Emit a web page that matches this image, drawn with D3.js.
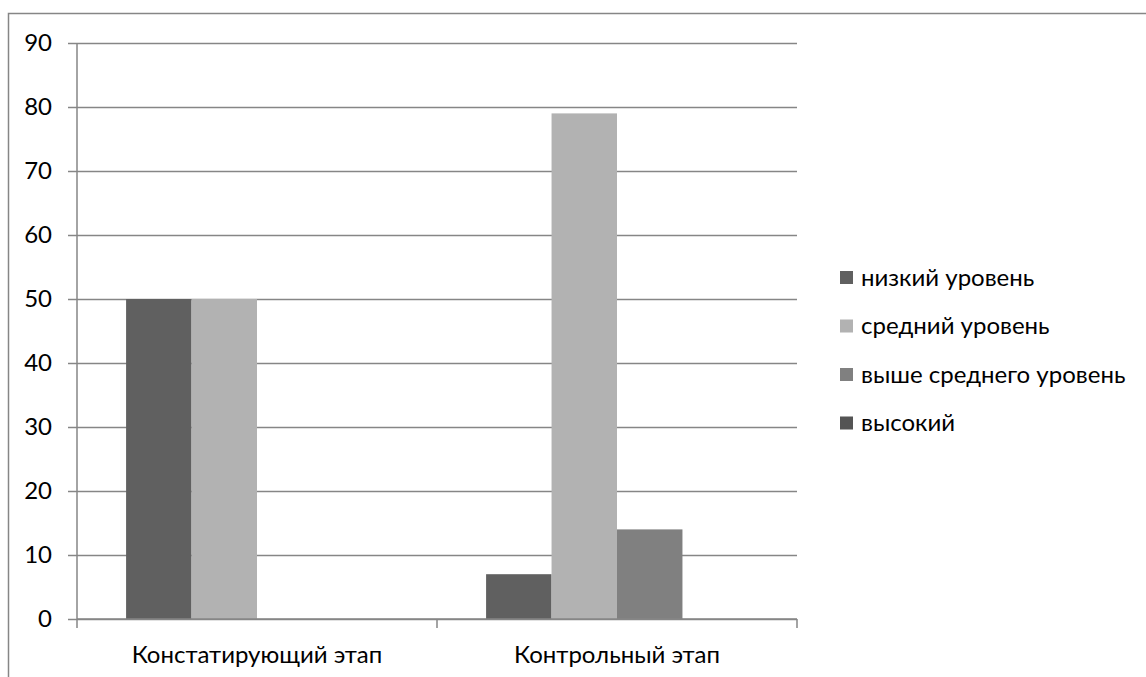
<!DOCTYPE html>
<html>
<head>
<meta charset="utf-8">
<script src="https://cdn.jsdelivr.net/npm/d3@7"></script>
<style>
    body { margin: 0; background: #fff; }
    text { font-family: Lato, 'Noto Sans', sans-serif; fill: #000; }
</style>
</head>
<body>
<div id="vis"></div>
<script>
'use strict';

//data
var categories = ['Констатирующий этап', 'Контрольный этап'];
var seriesNames = ['низкий уровень', 'средний уровень', 'выше среднего уровень', 'высокий'];
var lowValues = [50, 7];
var middleValues = [50, 79];
var aboveMiddleValues = [0, 14];
var highValues = [0, 0];
var yTicks = [0, 10, 20, 30, 40, 50, 60, 70, 80, 90];

//vis color
var colors = ['#606060', '#b2b2b2', '#808080', '#545454'];

//layout
var width = 1146, height = 677;
var plot = { left: 77, right: 797, top: 43, bottom: 619 };
var fontSize = 24;

var series = [lowValues, middleValues, aboveMiddleValues, highValues];

var svg = d3.select('#vis')
    .append('svg')
    .attr('width', width)
    .attr('height', height);

//outer frame
svg.append('rect')
    .attr('x', 8.5)
    .attr('y', 13.5)
    .attr('width', 1150)
    .attr('height', 700)
    .attr('fill', 'none')
    .attr('stroke', '#868686')
    .attr('stroke-width', 1.5);

var x0 = d3.scaleBand()
    .domain(categories)
    .range([plot.left, plot.right]);
var x1 = d3.scaleBand()
    .domain(d3.range(seriesNames.length))
    .range([0, x0.bandwidth()])
    .paddingOuter(0.75);
var y = d3.scaleLinear()
    .domain([0, 90])
    .range([plot.bottom, plot.top]);

//grid + y labels
var yAxis = svg.append('g')
    .attr('transform', 'translate(' + plot.left + ',0)')
    .call(d3.axisLeft(y).tickValues(yTicks).tickSize(-(plot.right - plot.left)).tickSizeOuter(0).tickPadding(25));
yAxis.select('.domain').remove();
yAxis.selectAll('.tick line')
    .attr('x1', -9)
    .attr('stroke', '#868686')
    .attr('stroke-width', 1.5);
yAxis.selectAll('.tick text')
    .attr('font-size', fontSize)
    .style('font-family', "Lato, 'Noto Sans', sans-serif");

//bars
var groups = svg.selectAll('.vis-g')
    .data(categories)
    .enter()
    .append('g')
    .attr('class', 'vis-g')
    .attr('transform', function (d) {
        return 'translate(' + x0(d) + ',0)';
    });
groups.selectAll('rect')
    .data(function (d, i) {
        return series.map(function (s, j) { return { key: j, value: s[i] }; });
    })
    .enter()
    .append('rect')
    .attr('x', function (d) { return x1(d.key); })
    .attr('y', function (d) { return y(d.value); })
    .attr('width', x1.bandwidth())
    .attr('height', function (d) { return plot.bottom - y(d.value); })
    .attr('fill', function (d) { return colors[d.key]; });

//y axis line
svg.append('line')
    .attr('x1', plot.left)
    .attr('x2', plot.left)
    .attr('y1', plot.top)
    .attr('y2', plot.bottom)
    .attr('stroke', '#868686')
    .attr('stroke-width', 1.5);

//x axis
var xAxis = svg.append('g')
    .attr('transform', 'translate(0,' + plot.bottom + ')');
xAxis.append('line')
    .attr('x1', plot.left)
    .attr('x2', plot.right)
    .attr('stroke', '#868686')
    .attr('stroke-width', 1.5);
//category dividers
var dividers = categories.map(function (c) { return x0(c); }).concat([plot.right]);
xAxis.selectAll('.x-tick')
    .data(dividers)
    .enter()
    .append('line')
    .attr('x1', function (d) { return d; })
    .attr('x2', function (d) { return d; })
    .attr('y2', 9)
    .attr('stroke', '#868686')
    .attr('stroke-width', 1.5);
xAxis.selectAll('.x-label')
    .data(categories)
    .enter()
    .append('text')
    .attr('x', function (d) { return x0(d) + x0.bandwidth() / 2; })
    .attr('y', 44)
    .attr('text-anchor', 'middle')
    .attr('font-size', fontSize)
    .text(function (d) { return d; });

//legend
var legend = svg.selectAll('.legend')
    .data(seriesNames)
    .enter()
    .append('g')
    .attr('class', 'legend')
    .attr('transform', function (d, i) {
        return 'translate(840,' + (271 + i * 48.5) + ')';
    });
legend.append('rect')
    .attr('width', 13)
    .attr('height', 13)
    .attr('fill', function (d, i) { return colors[i]; });
legend.append('text')
    .attr('x', 21)
    .attr('y', 6.5)
    .attr('dy', '0.35em')
    .attr('font-size', fontSize)
    .text(function (d) { return d; });
</script>
</body>
</html>
